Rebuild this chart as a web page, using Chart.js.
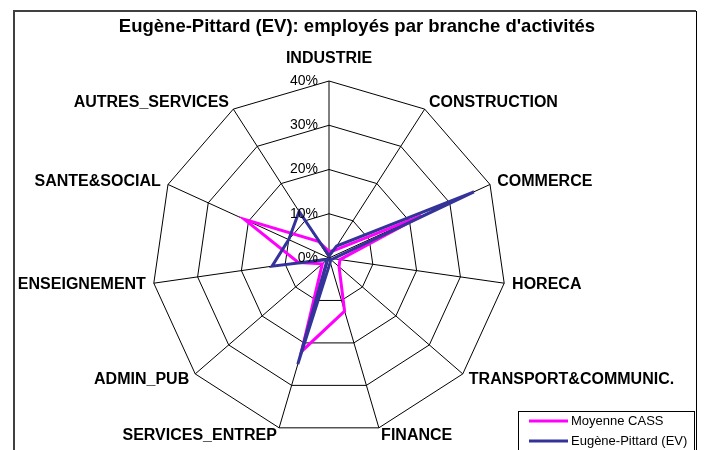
<!DOCTYPE html>
<html>
<head>
<meta charset="utf-8">
<script src="https://cdn.jsdelivr.net/npm/chart.js@4/dist/chart.umd.min.js"></script>
<style>
  html, body { margin: 0; padding: 0; background: #fff; }
  #wrap { position: relative; width: 704px; height: 450px; }
</style>
</head>
<body>
<div id="wrap"><canvas id="c" width="704" height="450"></canvas></div>
<script>
const chartTitle = "Eugène-Pittard (EV): employés par branche d'activités";
const categories = ['INDUSTRIE', 'CONSTRUCTION', 'COMMERCE', 'HORECA', 'TRANSPORT&COMMUNIC.', 'FINANCE',
  'SERVICES_ENTREP', 'ADMIN_PUB', 'ENSEIGNEMENT', 'SANTE&SOCIAL', 'AUTRES_SERVICES'];
const seriesNames = ['Moyenne CASS', 'Eugène-Pittard (EV)'];
const moyenneCASS = [1.5, 2, 23, 2.5, 3, 12.5, 22, 2, 7, 21, 4.5];
const eugenePittard = [0.5, 3.2, 36, 1, 0.5, 1, 25, 0.5, 13, 10, 12.5];
const tickValues = [0, 10, 20, 30, 40];
const tickLabels = ['0%', '10%', '20%', '30%', '40%'];

const FONT = "'Liberation Sans', Arial, sans-serif";

const framePlugin = {
  id: 'frame',
  beforeDraw(chart) {
    const ctx = chart.ctx;
    ctx.save();
    ctx.fillStyle = '#fff';
    ctx.fillRect(0, 0, chart.width, chart.height);
    ctx.strokeStyle = '#404040';
    ctx.lineWidth = 2;
    ctx.beginPath();
    ctx.moveTo(14, 460); ctx.lineTo(14, 11); ctx.lineTo(696, 11);
    ctx.stroke();
    ctx.strokeStyle = '#000';
    ctx.lineWidth = 1;
    ctx.beginPath();
    ctx.moveTo(696.5, 11); ctx.lineTo(696.5, 460);
    ctx.stroke();
    // title
    ctx.fillStyle = '#000';
    ctx.font = 'bold 18.5px ' + FONT;
    ctx.textAlign = 'center';
    ctx.textBaseline = 'middle';
    ctx.fillText(chartTitle, 357, 27);
    ctx.restore();
  }
};

const labelsPlugin = {
  id: 'labels',
  afterDraw(chart) {
    const ctx = chart.ctx;
    const scale = chart.scales.r;
    ctx.save();
    // tick labels
    ctx.font = '14px ' + FONT;
    ctx.fillStyle = '#000';
    ctx.textAlign = 'right';
    ctx.textBaseline = 'middle';
    scale.ticks.forEach((t) => {
      const d = scale.getDistanceFromCenterForValue(t.value);
      ctx.fillText(t.label, scale.xCenter - 11, scale.yCenter - d);
    });
    // point labels
    ctx.font = 'bold 16px ' + FONT;
    chart.data.labels.forEach((lab, i) => {
      const p = scale.getPointPosition(i, scale.drawingArea + 8);
      const dx = p.x - scale.xCenter;
      let y = p.y;
      if (Math.abs(dx) < 1) {
        ctx.textAlign = 'center';
        y -= 14;
      } else {
        ctx.textAlign = dx > 0 ? 'left' : 'right';
      }
      ctx.fillText(lab, p.x, y);
    });
    // legend
    const lx = 518.5, ly = 411.5, lw = 176, lh = 60;
    ctx.fillStyle = '#fff';
    ctx.fillRect(lx, ly, lw, lh);
    ctx.strokeStyle = '#000';
    ctx.lineWidth = 1;
    ctx.strokeRect(lx, ly, lw, lh);
    ctx.font = '13px ' + FONT;
    ctx.textAlign = 'left';
    chart.data.datasets.forEach((ds, i) => {
      const yy = 421 + i * 20;
      ctx.strokeStyle = ds.borderColor;
      ctx.lineWidth = 3;
      ctx.beginPath();
      ctx.moveTo(529, yy); ctx.lineTo(568, yy);
      ctx.stroke();
      ctx.fillStyle = '#000';
      ctx.fillText(ds.label, 571, yy);
    });
    ctx.restore();
  }
};

new Chart(document.getElementById('c'), {
  type: 'radar',
  data: {
    labels: categories,
    datasets: [
      { label: seriesNames[0], data: moyenneCASS, borderColor: '#FF00FF', borderWidth: 3,
        pointRadius: 0, fill: false, tension: 0, order: 1 },
      { label: seriesNames[1], data: eugenePittard, borderColor: '#333399', borderWidth: 3,
        pointRadius: 0, fill: false, tension: 0, order: 0 }
    ]
  },
  options: {
    responsive: false,
    animation: false,
    devicePixelRatio: 1,
    layout: { padding: { left: 152, right: 198, top: 81, bottom: 14 } },
    plugins: {
      legend: { display: false },
      title: { display: false },
      tooltip: { enabled: false }
    },
    scales: {
      r: {
        min: tickValues[0],
        max: tickValues[tickValues.length - 1],
        ticks: {
          stepSize: tickValues[1] - tickValues[0],
          display: false,
          callback: (v) => tickLabels[tickValues.indexOf(v)]
        },
        grid: { color: '#000', lineWidth: 1 },
        angleLines: { color: '#000', lineWidth: 1 },
        pointLabels: { display: false }
      }
    }
  },
  plugins: [framePlugin, labelsPlugin]
});
</script>
</body>
</html>
